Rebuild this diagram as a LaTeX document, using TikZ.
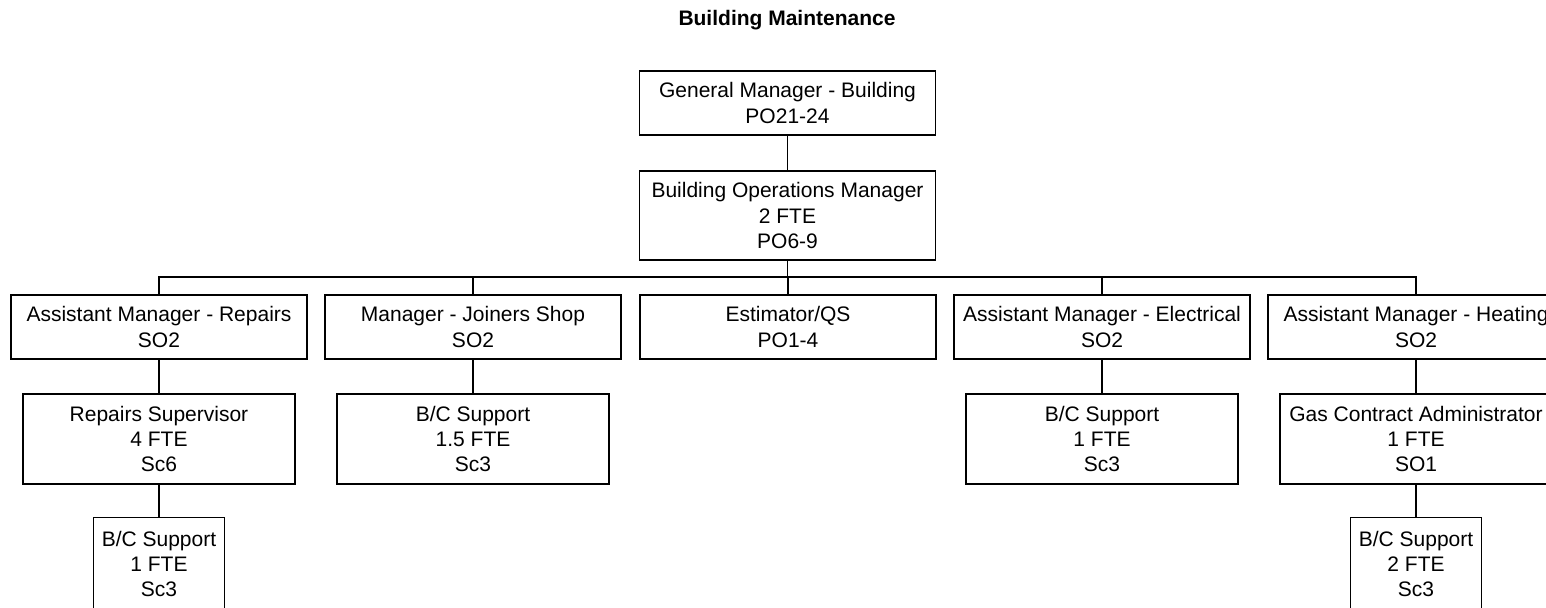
\documentclass[tikz,border=0pt]{standalone}
\usepackage{fontspec}
\setmainfont{Liberation Sans}
\begin{document}
\begin{tikzpicture}[x=0.5pt,y=-0.5pt,line width=0.6pt,
		post/.style={draw,inner sep=0pt,align=center,font=\fontsize{10.5pt}{12.6pt}\selectfont},
		wide/.style={post,minimum width=148pt,minimum height=32pt},
		mid/.style={post,minimum width=136pt,minimum height=45pt},
		small/.style={post,minimum width=65.5pt,minimum height=46.5pt}]
		\useasboundingbox (0,0) rectangle (1546,607);
		\node[font=\fontsize{10.5pt}{12.6pt}\selectfont\bfseries] (title) at (787,20) {Building Maintenance};
		\node[wide] (gm) at (787.5,103) {General Manager - Building\\PO21-24};
		\node[wide,minimum height=44.5pt] (bom) at (787.5,215.5) {Building Operations Manager\\2 FTE\\PO6-9};
		\coordinate (bus) at (787.5,277);
		\node[wide] (rep) at (159,327) {Assistant Manager - Repairs\\SO2};
		\node[wide] (join) at (473,327) {Manager - Joiners Shop\\SO2};
		\node[wide] (est) at (788,327) {Estimator/QS\\PO1-4};
		\node[wide] (elec) at (1102,327) {Assistant Manager - Electrical\\SO2};
		\node[wide] (heat) at (1416,327) {Assistant Manager - Heating\\SO2};
		\node[mid] (repsup) at (159,439) {Repairs Supervisor\\4 FTE\\Sc6};
		\node[mid] (joinbc) at (473,439) {B/C Support\\1.5 FTE\\Sc3};
		\node[mid] (elecbc) at (1102,439) {B/C Support\\1 FTE\\Sc3};
		\node[mid] (gas) at (1416,439) {Gas Contract Administrator\\1 FTE\\SO1};
		\node[small] (repbc) at (159,564) {B/C Support\\1 FTE\\Sc3};
		\node[small] (gasbc) at (1416,564) {B/C Support\\2 FTE\\Sc3};
		\draw (gm) -- (bom);
		\draw (bom) -- (bus);
		\foreach \n in {rep,join,est,elec,heat}
			\draw (bus) -| (\n.north);
		\draw (rep) -- (repsup);
		\draw (join) -- (joinbc);
		\draw (elec) -- (elecbc);
		\draw (heat) -- (gas);
		\draw (repsup) -- (repbc);
		\draw (gas) -- (gasbc);
	\end{tikzpicture}
\end{document}
